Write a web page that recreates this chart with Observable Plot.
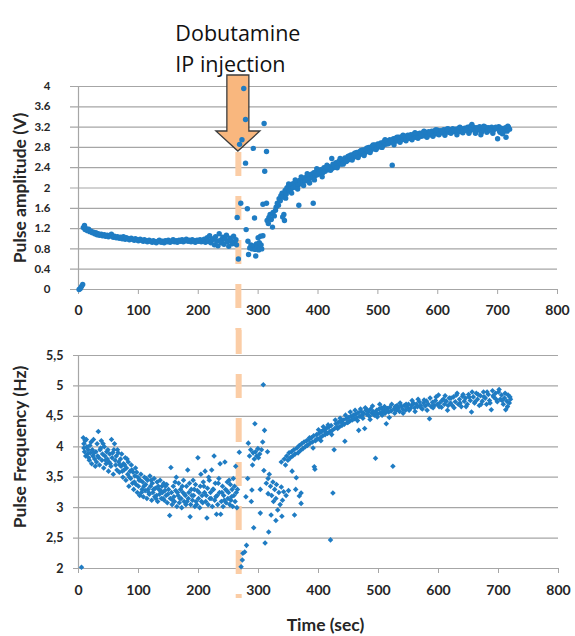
<!DOCTYPE html>
<html><head><meta charset="utf-8">
<script src="https://cdn.jsdelivr.net/npm/d3@7"></script>
<script src="https://cdn.jsdelivr.net/npm/@observablehq/plot@0.6"></script>
<style>body{margin:0;background:#fff;} #chart svg{display:block;}</style>
</head><body><div id="chart"></div>
<script>
const injectionTime = 267;
const injectionLabel = "Dobutamine\nIP injection";
const ampLabel = "Pulse amplitude (V)";
const freqLabel = "Pulse Frequency (Hz)";
const timeLabel = "Time (sec)";
const timeTicks = [0,100,200,300,400,500,600,700,800];
const ampTicks = [0,0.4,0.8,1.2,1.6,2,2.4,2.8,3.2,3.6,4];
const ampTickLabels = ["0","0.4","0.8","1.2","1.6","2","2.4","2.8","3.2","3.6","4"];
const freqTicks = [2,2.5,3,3.5,4,4.5,5,5.5];
const freqTickLabels = ["2","2,5","3","3,5","4","4,5","5","5,5"];

// Pulse amplitude (V) vs time (sec)
const ampPoints = [
[1,0.0],[3,0.02],[5,0.06],[7,0.1],
[8,1.22],[10,1.26],[11,1.18],[13,1.2],[15,1.16],[17,1.19],[19,1.14],[21,1.15],[23,1.12],[25,1.13],[27,1.1],[29,1.12],[31,1.08],[33,1.1],[35,1.07],[38,1.09],[40,1.06],[43,1.08],[45,1.05],[48,1.07],[50,1.04],[53,1.06],[55,1.09],[58,1.03],[60,1.05],[63,1.02],[65,1.04],[68,1.01],[70,1.03],[73,1.0],[75,1.04],[78,0.99],[80,1.02],[83,1.0],[85,0.98],[88,1.01],[90,0.99],[93,0.97],[95,1.0],[98,0.98],[100,0.96],[103,0.99],[105,0.97],[108,0.95],[110,0.98],[113,0.96],[115,0.94],[118,0.97],[120,0.95],[123,0.93],[125,0.96],[128,0.94],[130,0.92],[133,0.95],[135,0.97],[138,0.93],[140,0.95],[143,0.92],[145,0.96],[148,0.94],[150,0.97],[153,0.93],[155,0.95],[158,0.98],[160,0.94],[163,0.96],[165,0.93],[168,0.97],[170,0.95],[173,0.98],[175,0.94],[178,0.96],[180,0.99],[183,0.95],[185,0.97],[188,0.94],[190,0.98],[193,0.96],[195,0.93],[198,0.97],[200,0.95],[203,0.98],[205,0.94],[208,0.96],[210,0.99],[212,0.93],[215,1.02],[217,0.95],[219,1.06],[221,0.92],[223,0.98],[225,1.0],[227,0.88],[229,1.04],[231,0.95],[233,0.86],[235,1.1],[237,0.97],[239,0.92],[241,1.03],[243,0.89],[245,0.99],[247,1.07],[249,0.94],[251,0.85],[253,1.01],[255,0.96],[257,0.9],[259,1.05],[261,0.93],[263,0.98],[264,0.88],
[265,1.42],[267,0.6],[269,2.86],[271,1.7],[273,2.95],[276,3.96],[279,3.35],[279,2.49],[280,1.18],[282,1.59],[283,0.95],[284,0.69],[286,0.82],[288,0.88],[290,0.8],[292,2.78],[293,0.86],[294,1.41],[295,0.79],[296,0.66],[297,0.9],[299,0.84],[300,1.02],[301,0.78],[302,0.92],[303,0.82],[304,1.05],[305,0.88],[306,0.8],[308,1.68],[308,1.06],[310,3.27],[311,2.33],[314,2.72],[314,1.7],[315,1.36],[317,1.3],[318,1.42],[320,1.48],[322,1.38],[324,1.23],[325,1.52],[327,1.45],[329,1.56],[330,1.62],[332,1.7],[334,1.66],[335,1.79],[337,1.75],[338,1.85],[340,1.9],[341,1.43],[342,1.82],[343,1.48],[344,1.36],[345,1.95],[347,1.88],[348,2.0],[350,2.02],[352,1.94],[354,2.05],[355,1.98],[357,2.08],[359,2.01],[361,2.1],[363,2.04],[365,2.12],[367,2.06],[368,1.66],[369,2.15],[371,2.09],[373,2.18],[375,2.12],[377,2.2],[379,2.14],[381,2.22],[383,2.17],[385,2.25],[387,2.19],[389,2.27],[391,2.21],[392,1.7],[393,2.3],[395,2.24],[397,2.32],[399,2.26],[401,2.34],[403,2.28],[405,2.36],[408,2.3],[410,2.4],[412,2.33],[415,2.45],[417,2.36],[419,2.42],[423,2.58],[424,2.39],[425,2.47],[428,2.41],[430,2.5],[433,2.44],[435,2.53],[438,2.47],[440,2.56],[443,2.5],[445,2.59],[448,2.53],[450,2.62],[453,2.56],[455,2.65],[458,2.59],[460,2.67],[463,2.62],[465,2.7],[468,2.64],[470,2.72],[473,2.67],[475,2.75],[478,2.69],[480,2.77],[483,2.72],[485,2.8],[488,2.74],[490,2.82],[493,2.77],[495,2.85],[498,2.79],[500,2.87],[503,2.81],[505,2.89],[508,2.83],[510,2.91],[513,2.86],[515,2.93],[518,2.88],[520,2.95],[523,2.9],[524,2.45],[526,2.97],[528,2.91],[530,2.98],[533,2.93],[535,3.0],[538,2.94],[540,3.01],[543,2.96],[545,3.02],[548,2.97],[550,3.04],[553,2.98],[555,3.05],[558,2.99],[560,3.06],[563,3.0],[565,3.07],[568,3.01],[570,3.08],[573,3.02],[575,3.09],[578,3.03],[580,3.1],[583,3.04],[585,3.11],[588,3.05],[590,3.12],[593,3.06],[595,3.13],[598,3.07],[600,3.14],[603,3.08],[605,3.13],[608,3.09],[610,3.15],[613,3.1],[615,3.16],[618,3.1],[620,3.15],[623,3.12],[625,3.17],[628,3.11],[630,3.16],[633,3.13],[635,3.18],[638,3.11],[640,3.17],[643,3.13],[645,3.18],[648,3.14],[650,3.2],[653,3.12],[655,3.22],[658,3.15],[660,3.2],[663,3.08],[665,3.19],[668,3.14],[670,3.21],[673,3.1],[675,3.18],[678,3.15],[680,3.2],[683,3.12],[685,3.19],[688,3.16],[690,3.2],[693,3.14],[695,3.18],[698,3.17],[700,2.97],[702,3.21],[704,3.1],[706,3.18],[708,3.07],[710,3.15],[713,3.19],[714,3.0],[716,3.12],[718,3.2],[720,3.16],
[346,1.8],[351,2.08],[356,1.9],[362,2.16],[366,1.98],[372,2.22],[376,2.05],[382,2.28],[386,2.1],[394,2.16],[398,2.38],
[402,2.31],[407,2.22],[414,2.41],[421,2.35],[427,2.46],[432,2.4],[437,2.58],[442,2.47],[447,2.52],[452,2.63],[457,2.55],[462,2.69],[467,2.6],[472,2.74],[477,2.64],[482,2.79],[487,2.7],[492,2.85],[497,2.76],[502,2.84],[507,2.8],[512,2.95],[517,2.87],[522,2.93],[527,2.85],[532,3.0],[537,2.9],[542,3.04],[547,2.93],[552,3.0],[557,2.95],[562,3.09],[567,2.98],[572,3.05],[577,3.12],[582,3.0],[587,3.08],[592,3.02],[597,3.15],[602,3.05],[607,3.11],[612,3.04],[617,3.17],[622,3.08],[627,3.13],[632,3.05],[637,3.2],[642,3.09],[647,3.14],[652,3.08],[657,3.25],[662,3.13],[667,3.17],[672,3.05],[677,3.22],[682,3.1],[687,3.14],[692,3.08],[697,3.2],[703,3.13],[709,3.09],[717,3.22]
];

// Pulse frequency (Hz) vs time (sec)
const freqPoints = [
[5,2.02],
[8,4.15],[9,4.05],[10,3.92],[11,4.1],[12,3.85],[14,4.0],[15,3.88],[16,3.95],[18,3.78],[19,4.02],[20,3.9],[22,3.72],[23,3.95],[24,3.85],[25,4.12],[27,3.8],[28,3.68],[29,3.92],[30,3.75],[31,4.05],[33,4.25],[34,3.82],[35,3.7],[36,3.95],[38,4.1],[39,3.78],[40,3.88],[42,3.65],[43,4.0],[44,3.85],[46,3.72],[47,3.92],[48,3.8],[50,3.6],[51,3.75],[52,3.88],[54,3.68],[55,4.12],[56,3.82],[58,3.55],[59,3.95],[60,4.05],[62,3.7],[63,3.85],[64,3.62],[66,3.9],[67,3.75],[68,3.58],[70,3.8],[71,3.68],[72,3.88],[74,3.5],[75,3.72],[76,3.62],[78,3.82],[79,3.45],[80,3.65],[82,3.55],[83,3.75],[84,3.35],[86,3.6],[87,3.48],[88,3.7],[90,3.4],[91,3.58],[92,3.3],[94,3.52],[95,3.65],[96,3.38],[98,3.25],[99,3.5],[100,3.35],[102,3.2],[103,3.45],[104,3.55],[106,3.3],[107,3.42],[108,3.18],[110,3.5],[111,3.28],[112,3.38],[114,3.15],[115,3.45],[116,3.3],[118,3.22],[119,3.52],[120,3.35],[122,3.12],[123,3.4],[124,3.25],[126,3.48],[127,3.18],[128,3.32],[130,3.2],[131,3.42],[132,3.1],[134,3.3],[135,3.22],[136,3.45],[138,3.15],[139,3.35],[140,3.25],[142,3.4],[143,3.12],[144,3.28],[146,3.2],[147,3.38],[148,3.08],[150,3.3],[152,2.87],[153,3.15],[154,3.66],[155,3.25],[156,3.05],[158,3.35],[159,3.18],[160,3.1],[162,3.28],[163,3.5],[164,3.02],[166,3.2],[167,3.4],[168,3.08],[170,3.3],[171,3.15],[172,3.0],[174,3.25],[175,3.45],[176,3.1],[178,3.2],[179,3.05],[180,3.35],[182,3.62],[183,3.15],[184,3.25],[186,2.85],[187,3.05],[188,3.3],[190,3.12],[191,3.45],[192,3.2],[194,3.02],[195,3.38],[196,3.1],[198,3.28],[199,3.82],[200,3.15],[202,3.0],[203,3.35],[204,3.55],[206,3.2],[207,3.08],[208,3.42],[210,3.25],[211,3.6],[212,3.1],[214,2.83],[215,3.32],[216,3.05],[218,3.45],[219,3.15],[220,3.25],[222,3.62],[223,3.02],[224,3.3],[226,3.85],[227,3.12],[228,3.4],[230,2.89],[231,3.2],[232,3.05],[234,3.48],[235,3.25],[236,3.72],[237,2.89],[238,3.1],[240,3.35],[241,3.02],[242,3.2],[244,3.75],[245,3.3],[246,3.08],[248,3.42],[249,3.15],[250,3.25],[252,3.05],[253,3.38],[254,3.12],[256,3.3],[257,3.02],[258,3.48],[259,3.2],[260,3.35],[261,3.1],[262,3.68],[263,3.25],[264,3.0],[265,3.3],
[9,3.98],[13,4.12],[17,3.82],[21,4.08],[26,3.9],[32,3.85],[37,3.98],[41,4.05],[45,3.78],[49,3.95],[53,3.72],[57,3.9],[61,3.78],[65,3.95],[69,3.7],[73,3.6],[77,3.7],[81,3.8],[85,3.5],[89,3.62],[93,3.42],[97,3.58],[101,3.45],[105,3.25],[109,3.35],[113,3.48],[117,3.25],[121,3.45],[125,3.3],[129,3.15],[133,3.35],[137,3.28],[141,3.15],[145,3.35],[149,3.22],[157,3.12],[161,3.42],[165,3.25],[169,3.15],[173,3.35],[177,3.22],[181,3.1],[185,3.4],[189,3.2],[193,3.3],[197,3.05],[201,3.25],[205,3.1],[209,3.35],[213,3.2],[217,3.5],[221,3.15],[225,3.3],[229,3.18],[233,3.4],[239,3.25],[243,3.12],[247,3.28],[251,3.45],[255,3.18],
[268,3.91],[271,2.03],[273,2.14],[274,2.25],[277,2.27],[280,2.38],[279,3.18],[282,3.48],[283,4.06],[285,3.85],[287,3.95],[288,3.1],[289,3.29],[290,3.7],[291,3.9],[292,2.67],[293,3.8],[294,4.38],[295,3.92],[297,3.85],[299,3.97],[300,3.82],[302,3.88],[303,2.91],[303,3.3],[305,3.95],[307,4.08],[308,5.02],[309,3.61],[310,4.27],[311,2.42],[313,3.4],[315,3.92],[316,3.48],[316,3.23],[317,2.6],[318,3.55],[320,3.35],[321,2.88],[322,3.2],[324,3.42],[325,3.1],[327,3.3],[329,3.15],[329,2.79],[330,3.38],[332,2.96],[334,3.25],[336,3.05],[338,3.34],[338,3.75],[339,2.86],[340,3.12],[342,3.26],[343,3.8],[345,3.7],[346,3.2],[347,3.85],[349,3.78],[350,3.28],[351,3.9],[353,3.82],[355,3.92],[356,3.6],[357,3.85],[359,3.95],[360,2.88],[361,3.88],[362,3.3],[363,3.49],[364,3.98],[366,3.9],[368,3.19],[368,4.02],[370,3.94],[371,3.24],[371,3.07],[372,4.05],[374,3.97],[376,4.08],[378,4.0],[380,4.1],[382,4.03],[384,4.12],[386,4.06],[388,4.15],[390,4.08],[392,4.18],[393,3.67],[394,3.63],[395,4.1],[397,4.2],[399,4.13],[401,4.22],[403,4.15],[405,4.25],[407,4.18],[409,4.28],[411,4.2],[413,4.3],[415,4.22],[417,4.32],[419,4.25],[420,2.47],[421,4.35],[423,4.27],[424,3.24],[426,3.95],[427,4.3],[429,4.38],[431,4.32],[433,4.4],[435,4.33],[437,4.42],[439,4.35],[441,4.44],[443,4.37],[444,4.09],[446,4.46],[448,4.4],[450,4.48],[452,4.42],[454,4.5],[456,4.44],[458,4.52],[460,4.46],[462,4.54],[464,4.48],[466,4.56],[467,4.27],[469,4.5],[471,4.58],[473,4.52],[475,4.55],[477,4.3],[479,4.6],[481,4.53],[483,4.57],[485,4.5],[487,4.62],[489,4.55],[491,4.58],[493,4.52],[495,3.81],[497,4.6],[499,4.54],[501,4.62],[503,4.56],[505,4.64],[507,4.58],[509,4.6],[511,4.55],[513,4.38],[515,4.63],[517,4.57],[519,4.65],[521,4.59],[524,3.68],[526,4.62],[528,4.66],[530,4.6],[533,4.64],[535,4.58],[538,4.67],[540,4.62],[543,4.68],[545,4.6],[548,4.65],[550,4.7],[553,4.63],[555,4.68],[558,4.72],[560,4.64],[563,4.7],[565,4.66],[568,4.74],[570,4.68],[573,4.62],[575,4.72],[578,4.67],[580,4.75],[583,4.7],[585,4.46],[588,4.66],[590,4.73],[593,4.68],[595,4.76],[598,4.7],[600,4.85],[602,4.72],[605,4.65],[608,4.78],[610,4.7],[613,4.75],[615,4.6],[618,4.8],[620,4.72],[623,4.68],[625,4.82],[628,4.74],[630,4.85],[633,4.7],[635,4.78],[638,4.66],[640,4.83],[643,4.75],[645,4.8],[648,4.7],[650,4.86],[653,4.76],[655,4.57],[658,4.82],[660,4.72],[663,4.88],[665,4.78],[668,4.68],[670,4.84],[673,4.75],[675,4.9],[678,4.8],[680,4.7],[683,4.86],[685,4.76],[688,4.61],[690,4.92],[692,4.82],[695,4.88],[698,4.74],[700,4.9],[703,4.78],[705,4.85],[708,4.7],[710,4.8],[712,4.61],[714,4.75],[716,4.85],[718,4.72],[720,4.78],
[381,4.02],[385,4.15],[391,3.98],[396,4.12],[400,4.28],[404,4.1],[408,4.33],[412,4.24],[416,4.36],[422,4.2],[428,4.44],[432,4.3],[436,4.47],[440,4.38],[445,4.52],[449,4.4],[453,4.57],[457,4.45],[461,4.6],[465,4.43],[470,4.62],[474,4.47],[478,4.64],[482,4.6],[486,4.45],[490,4.67],[494,4.56],[498,4.49],[502,4.7],[506,4.52],[510,4.66],[514,4.6],[518,4.48],[522,4.7],[527,4.55],[531,4.68],[536,4.72],[541,4.55],[546,4.7],[551,4.6],[556,4.76],[561,4.58],[566,4.78],[571,4.64],[576,4.77],[581,4.6],[586,4.8],[591,4.64],[596,4.82],[601,4.66],[606,4.76],[611,4.84],[616,4.68],[621,4.8],[626,4.64],[631,4.88],[636,4.72],[641,4.86],[646,4.66],[651,4.82],[656,4.9],[661,4.74],[666,4.86],[671,4.7],[676,4.82],[681,4.9],[686,4.72],[691,4.84],[696,4.78],[701,4.94],[706,4.76],[711,4.88],[715,4.66],[719,4.82]
];

const gridColor = "#a6a6a6";
const dotColor = "#1f7cc3";
const dashColor = "#fbcda6";
const textColor = "#262626";
const font = "Lato, 'Open Sans', sans-serif";

function blockArrow(index, scales, values, dimensions) {
  const cx = scales.x(injectionTime);
  const t = dimensions.marginTop;
  const d = `M${cx-11},${t-11}H${cx+11}V${t+45}H${cx+22}L${cx},${t+65}L${cx-22},${t+45}H${cx-11}Z`;
  return d3.create("svg:path").attr("d", d).attr("fill", "#f9b77e")
    .attr("stroke", "#3c3c3c").attr("stroke-width", 1.3).attr("stroke-linejoin", "miter").node();
}

const topChart = Plot.plot({
  width: 575, height: 330,
  marginTop: 86, marginBottom: 41, marginLeft: 78, marginRight: 18,
  style: {fontFamily: font, background: "#fff", overflow: "visible"},
  x: {domain: [0, 800]},
  y: {domain: [0, 4]},
  marks: [
    Plot.gridY(ampTicks, {stroke: gridColor, strokeOpacity: 1, strokeWidth: 1.2, insetLeft: -8}),
    Plot.ruleX([0], {stroke: gridColor, strokeWidth: 1.2}),
    Plot.axisX(timeTicks, {tickSize: 5, tickPadding: 11, stroke: gridColor, fill: textColor, fontSize: 14, fontWeight: "bold", label: null}),
    Plot.axisY(ampTicks, {tickSize: 0, tickPadding: 28, fill: textColor, fontSize: 11.5, fontWeight: "bold", label: null, tickFormat: (d, i) => ampTickLabels[i]}),
    Plot.text([ampLabel], {frameAnchor: "left", rotate: -90, dx: -58, fontSize: 17.5, fontWeight: "bold", fill: textColor, textAnchor: "middle", lineAnchor: "middle"}),
    Plot.ruleX([injectionTime], {stroke: dashColor, strokeWidth: 6, strokeDasharray: "24,20", insetTop: 66, insetBottom: -41}),
    blockArrow,
    Plot.text([injectionLabel], {x: injectionTime, frameAnchor: "top", lineAnchor: "top", textAnchor: "start", dx: -63, dy: -68, lineHeight: 1.45, fontSize: 21.5, fontFamily: "'Open Sans', sans-serif", fill: "#111"}),
    Plot.dot(ampPoints, {x: d => d[0], y: d => d[1], r: 2.7, fill: dotColor, stroke: "none"})
  ]
});

const bottomChart = Plot.plot({
  width: 575, height: 306,
  marginTop: 25, marginBottom: 68, marginLeft: 78, marginRight: 17,
  style: {fontFamily: font, background: "#fff", overflow: "visible"},
  x: {domain: [0, 800]},
  y: {domain: [2, 5.5]},
  marks: [
    Plot.gridY(freqTicks, {stroke: gridColor, strokeOpacity: 1, strokeWidth: 1.2, insetLeft: -5}),
    Plot.ruleX([0], {stroke: gridColor, strokeWidth: 1.2}),
    Plot.axisX(timeTicks, {tickSize: 5, tickPadding: 12, stroke: gridColor, fill: textColor, fontSize: 14, fontWeight: "bold", label: null}),
    Plot.axisY(freqTicks, {tickSize: 0, tickPadding: 15, fill: textColor, fontSize: 12.5, fontWeight: "bold", label: null, tickFormat: (d, i) => freqTickLabels[i]}),
    Plot.text([freqLabel], {frameAnchor: "left", rotate: -90, dx: -58, dy: -15, fontSize: 17.5, fontWeight: "bold", fill: textColor, textAnchor: "middle", lineAnchor: "middle"}),
    Plot.text([timeLabel], {frameAnchor: "bottom", dx: 7, dy: 57, fontSize: 17.5, fontWeight: "bold", fill: textColor, textAnchor: "middle", lineAnchor: "middle"}),
    Plot.ruleX([injectionTime], {stroke: dashColor, strokeWidth: 6, strokeDasharray: "24,20", insetTop: -25, insetBottom: -30}),
    Plot.dot(freqPoints, {x: d => d[0], y: d => d[1], r: 2.5, symbol: "diamond2", fill: dotColor, stroke: "none"})
  ]
});

document.getElementById("chart").append(topChart, bottomChart);
</script>
</body></html>
